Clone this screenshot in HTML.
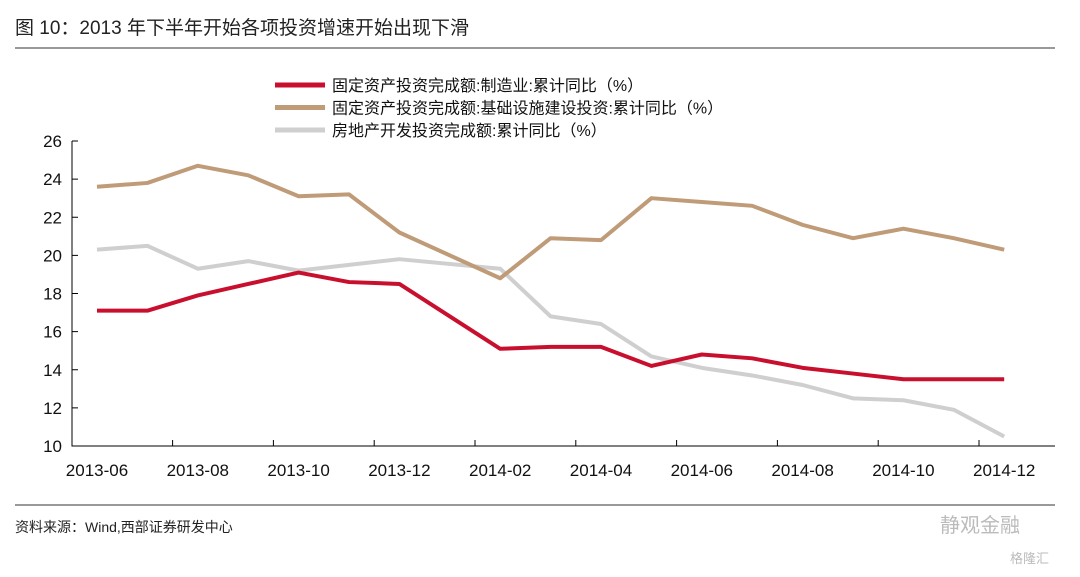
<!DOCTYPE html>
<html><head><meta charset="utf-8"><style>
body{margin:0;background:#fff;}
svg{display:block;font-family:"Liberation Sans","Noto Sans CJK SC",sans-serif;}
</style></head><body>
<svg id="chart" width="1080" height="577">
<text x="15" y="34" font-size="19" fill="#222">图 10：2013 年下半年开始各项投资增速开始出现下滑</text>
<line x1="15" y1="48" x2="1055" y2="48" stroke="#333" stroke-width="1"/>
<line x1="15" y1="505" x2="1055" y2="505" stroke="#333" stroke-width="1"/>
<text x="15" y="532" font-size="14" fill="#222">资料来源：Wind,西部证券研发中心</text>
<text x="940" y="532" font-size="20" fill="#bbb">静观金融</text>
<text x="1010" y="563" font-size="13" fill="#bbb">格隆汇</text>
<g id="legend"></g>
<g id="plot"></g>
</svg>
<script>
const months=["2013-06","2013-07","2013-08","2013-09","2013-10","2013-11","2013-12","2014-01","2014-02","2014-03","2014-04","2014-05","2014-06","2014-07","2014-08","2014-09","2014-10","2014-11","2014-12"];
const manufacturing=[17.1,17.1,17.9,18.5,19.1,18.6,18.5,null,15.1,15.2,15.2,14.2,14.8,14.6,14.1,13.8,13.5,13.5,13.5];
const infrastructure=[23.6,23.8,24.7,24.2,23.1,23.2,21.2,null,18.8,20.9,20.8,23.0,22.8,22.6,21.6,20.9,21.4,20.9,20.3];
const realEstate=[20.3,20.5,19.3,19.7,19.2,19.5,19.8,null,19.3,16.8,16.4,14.7,14.1,13.7,13.2,12.5,12.4,11.9,10.5];
const yTicks=[10,12,14,16,18,20,22,24,26];
const xTickLabels=["2013-06","2013-08","2013-10","2013-12","2014-02","2014-04","2014-06","2014-08","2014-10","2014-12"];
const seriesNames=["固定资产投资完成额:制造业:累计同比（%）","固定资产投资完成额:基础设施建设投资:累计同比（%）","房地产开发投资完成额:累计同比（%）"];
const NS="http://www.w3.org/2000/svg";
const L=72,R=1055,T=141,B=446;
const x=i=>97+i*50.4;
const y=v=>B-(v-10)/16*(B-T);
const plot=document.getElementById('plot'),legend=document.getElementById('legend');
function mk(tag,a,p){const e=document.createElementNS(NS,tag);for(const k in a)e.setAttribute(k,a[k]);p.appendChild(e);return e;}
let ax=mk('path',{d:`M${L},${T} V${B} H${R}`,fill:'none',stroke:'#000','stroke-width':1},plot);


yTicks.forEach(v=>{
 let t=mk('line',{x1:L,x2:L+6,y1:y(v),y2:y(v),stroke:'#000'},plot);
 
 
 let tx=mk('text',{x:L-10,y:y(v)+6,'text-anchor':'end','font-size':17,fill:'#111'},plot);tx.textContent=v;
 
 
});
for(let k=0;k<9;k++){
 let xx=x(1.5+2*k);
 let t=mk('line',{x1:xx,x2:xx,y1:B,y2:B-6,stroke:'#000'},plot);
 
 
}
xTickLabels.forEach(lab=>{
 let i=months.indexOf(lab);
 let tx=mk('text',{x:x(i),y:B+30,'text-anchor':'middle','font-size':17,fill:'#111'},plot);tx.textContent=lab;
 
 
});
const series=[[realEstate,'#cfcfcf','series-real-estate'],[infrastructure,'#bf9b78','series-infrastructure'],[manufacturing,'#c8102e','series-manufacturing']];
series.forEach(([d,c,n])=>{
 let pts=[];d.forEach((v,i)=>{if(v!=null)pts.push(x(i)+','+y(v));});
 let p=mk('polyline',{points:pts.join(' '),fill:'none',stroke:c,'stroke-width':4,'stroke-linejoin':'round'},plot);
 
 
});
const legendColors=['#c8102e','#bf9b78','#cfcfcf'];
seriesNames.forEach((s,i)=>{
 let yy=85+i*22.5;
 let l=mk('line',{x1:275,x2:325,y1:yy,y2:yy,stroke:legendColors[i],'stroke-width':5},legend);
 
 
 let t=mk('text',{x:332,y:yy+6,'font-size':16,fill:'#111'},legend);t.textContent=s;
 
 
});
</script>
</body></html>
